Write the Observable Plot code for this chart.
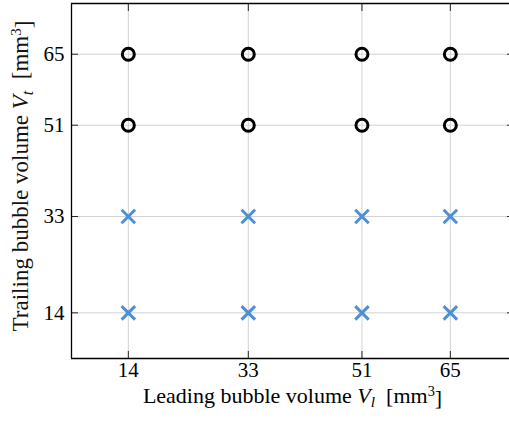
<!DOCTYPE html>
<html><head><meta charset="utf-8">
<script src="https://cdn.jsdelivr.net/npm/d3@7"></script>
<script src="https://cdn.jsdelivr.net/npm/@observablehq/plot@0.6"></script>
<style>
html,body{margin:0;padding:0;background:#fff;overflow:hidden;width:509px;height:421px}
#chart{width:509px;height:421px;overflow:hidden;position:relative}
#chart svg{max-width:none !important;display:block}
</style></head><body><div id="chart"></div>
<script>
const leadingVolumes = [14, 33, 51, 65];
const circleTrailing = [51, 65];
const crossTrailing = [14, 33];
const xTickValues = [14, 33, 51, 65];
const yTickValues = [14, 33, 51, 65];
const xDomain = [5, 75];
const yDomain = [5, 75];
const xLabelParts = ["Leading bubble volume ", "V", "l", "  [mm", "3", "]"];
const yLabelParts = ["Trailing bubble volume ", "V", "t", "  [mm", "3", "]"];

const circles = circleTrailing.flatMap(t => leadingVolumes.map(l => ({l, t})));
const crosses = crossTrailing.flatMap(t => leadingVolumes.map(l => ({l, t})));

const serif = "'Liberation Serif', 'Times New Roman', serif";
const plot = Plot.plot({
  width: 540, height: 421,
  marginLeft: 71, marginRight: 27, marginTop: 3, marginBottom: 63,
  x: {domain: xDomain},
  y: {domain: yDomain},
  style: {fontFamily: serif, fontSize: "21px", color: "#000", background: "#fff"},
  marks: [
    Plot.gridX(xTickValues, {stroke: "#d2d2d2", strokeOpacity: 1, strokeWidth: 1}),
    Plot.gridY(yTickValues, {stroke: "#d2d2d2", strokeOpacity: 1, strokeWidth: 1}),
    Plot.axisX(xTickValues, {anchor: "bottom", tickSize: 0, tickPadding: 4, label: null, fontSize: 21}),
    Plot.axisY(yTickValues, {anchor: "left", tickSize: 0, tickPadding: 7, label: null, fontSize: 21}),
    Plot.axisX(xTickValues, {anchor: "bottom", tickSize: -7, tickFormat: () => "", label: null, stroke: "#262626"}),
    Plot.axisX(xTickValues, {anchor: "top", tickSize: -7, tickFormat: () => "", label: null, stroke: "#262626"}),
    Plot.axisY(yTickValues, {anchor: "left", tickSize: -7, tickFormat: () => "", label: null, stroke: "#262626"}),
    Plot.axisY(yTickValues, {anchor: "right", tickSize: -7, tickFormat: () => "", label: null, stroke: "#262626"}),
    Plot.ruleX([xDomain[0]], {stroke: "#000", strokeWidth: 1.3}),
    Plot.ruleY(yDomain, {stroke: "#000", strokeWidth: 1.3}),
    Plot.dot(circles, {x: "l", y: "t", r: 6, stroke: "#000", strokeWidth: 3, fill: "none"}),
    Plot.dot(crosses, {x: "l", y: "t", symbol: "times", r: 6.2, stroke: "#4d90d5", strokeWidth: 3}),
    Plot.text([xLabelParts.join("")], {frameAnchor: "bottom", dy: 44, fontSize: 22, fill: "#000", className: "xlab"}),
    Plot.text([yLabelParts.join("")], {frameAnchor: "left", dx: -51, dy: -5, rotate: -90, textAnchor: "middle", fontSize: 23, fill: "#1a1010", className: "ylab"})
  ]
});
document.getElementById("chart").appendChild(plot);

function richLabel(textSel, parts) {
  textSel.each(function () {
    const t = d3.select(this);
    t.text(null);
    t.append("tspan").text(parts[0]);
    t.append("tspan").attr("font-style", "italic").text(parts[1]);
    t.append("tspan").attr("font-style", "italic").attr("font-size", "0.7em").attr("dy", "0.3em").text(parts[2]);
    t.append("tspan").attr("dy", "-0.2em").style("white-space", "pre").text(parts[3]);
    t.append("tspan").attr("font-size", "0.65em").attr("dy", "-0.45em").text(parts[4]);
    t.append("tspan").attr("dy", "0.4em").text(parts[5]);
  });
}
richLabel(d3.select(plot).selectAll("g.xlab text"), xLabelParts);
richLabel(d3.select(plot).selectAll("g.ylab text"), yLabelParts);
</script></body></html>
